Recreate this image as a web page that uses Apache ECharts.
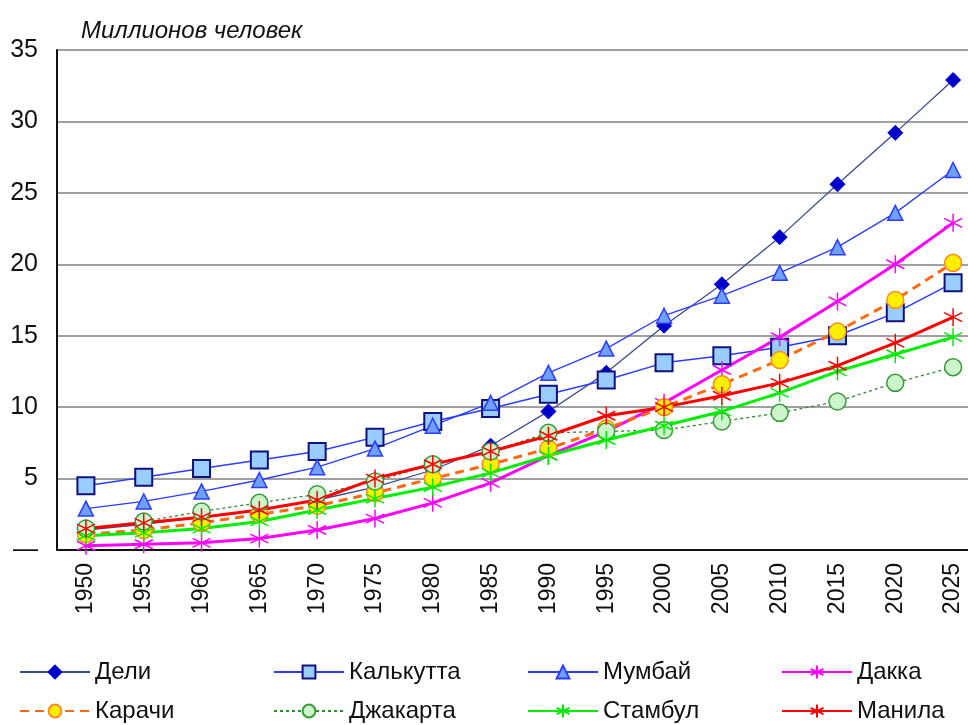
<!DOCTYPE html>
<html>
<head>
<meta charset="utf-8">
<script src="https://cdn.jsdelivr.net/npm/echarts@6/dist/echarts.min.js"></script>
<style>
  html, body { margin: 0; padding: 0; background: #fff; }
  #chart { width: 968px; height: 725px; }
</style>
</head>
<body>
<div id="chart"></div>
<script>
// годы и численность населения, млн человек
var years = ['1950', '1955', '1960', '1965', '1970', '1975', '1980', '1985',
  '1990', '1995', '2000', '2005', '2010', '2015', '2020', '2025'];

var delhi    = [1.4, 1.8, 2.3, 2.8, 3.5, 4.4, 5.6, 7.3, 9.7, 12.4, 15.7, 18.6, 21.9, 25.6, 29.2, 32.9];
var kolkata  = [4.5, 5.1, 5.7, 6.3, 6.9, 7.9, 9.0, 9.9, 10.9, 11.9, 13.1, 13.6, 14.2, 15.0, 16.6, 18.7];
var mumbai   = [2.9, 3.4, 4.1, 4.9, 5.8, 7.1, 8.7, 10.3, 12.4, 14.1, 16.4, 17.8, 19.4, 21.2, 23.6, 26.6];
var dhaka    = [0.3, 0.4, 0.5, 0.8, 1.4, 2.2, 3.3, 4.7, 6.6, 8.3, 10.3, 12.6, 14.9, 17.4, 20.0, 22.9];
var karachi  = [1.1, 1.4, 1.9, 2.5, 3.1, 4.0, 5.0, 6.0, 7.1, 8.5, 10.0, 11.6, 13.3, 15.3, 17.5, 20.1];
var jakarta  = [1.5, 2.0, 2.7, 3.3, 3.9, 4.8, 6.0, 6.9, 8.2, 8.3, 8.4, 9.0, 9.6, 10.4, 11.7, 12.8];
var istanbul = [1.0, 1.2, 1.5, 2.0, 2.8, 3.6, 4.4, 5.4, 6.6, 7.7, 8.7, 9.7, 11.0, 12.5, 13.7, 14.9];
var manila   = [1.5, 1.9, 2.3, 2.8, 3.5, 5.0, 6.0, 6.9, 8.0, 9.4, 10.0, 10.8, 11.7, 12.9, 14.5, 16.3];

var yTicks = [0, 5, 10, 15, 20, 25, 30, 35];

var FONT = '"Liberation Sans", Arial, sans-serif';
var STAR = 'path://M0,-10L0,10M-8.66,-5L8.66,5M-8.66,5L8.66,-5';

function lineSeries(name, data, color, width, type, symbol, size, fill, border, bw) {
  return {
    name: name,
    type: 'line',
    data: data,
    symbol: symbol,
    symbolSize: size,
    showAllSymbol: true,
    lineStyle: { color: color, width: width, type: type },
    itemStyle: { color: fill, borderColor: border, borderWidth: bw },
    emphasis: { disabled: true },
    animation: false
  };
}

var series = [
  lineSeries('Дели', delhi, '#3c4a8f', 1.3, 'solid', 'diamond', 15, '#0000cc', '#0000cc', 1),
  lineSeries('Калькутта', kolkata, '#2a3cff', 1.5, 'solid', 'rect', 17, '#99ccff', '#101080', 2),
  lineSeries('Мумбай', mumbai, '#2a3cff', 1.3, 'solid', 'triangle', 15, '#6f9fff', '#2a3cff', 1.5),
  lineSeries('Дакка', dhaka, '#ff00ff', 3, 'solid', STAR, 18, 'none', '#ff00ff', 1.5),
  lineSeries('Карачи', karachi, '#ff6a10', 3, [9, 6], 'circle', 17, '#ffee00', '#ff8a20', 1.5),
  lineSeries('Джакарта', jakarta, '#2e8b2e', 1.3, [3, 3], 'circle', 17, '#ccf5cc', '#3a9a3a', 1.5),
  lineSeries('Стамбул', istanbul, '#00ee00', 3, 'solid', STAR, 18, 'none', '#00ee00', 1.5),
  lineSeries('Манила', manila, '#ff0000', 3, 'solid', STAR, 18, 'none', '#ff0000', 1.5)
];

var legendPos = [
  [19, 660], [273, 660], [527, 660], [781, 660],
  [19, 699], [273, 699], [527, 699], [781, 699]
];
var legends = series.map(function (s, i) {
  return {
    data: [s.name],
    left: legendPos[i][0],
    top: legendPos[i][1],
    padding: 0,
    itemWidth: 70,
    itemHeight: 16,
    selectedMode: false,
    textStyle: { fontSize: 24, fontFamily: FONT, color: '#111' }
  };
});

var chart = echarts.init(document.getElementById('chart'), null, { renderer: 'canvas' });
chart.setOption({
  backgroundColor: '#fff',
  animation: false,
  title: {
    text: 'Миллионов человек',
    left: 76,
    top: 14,
    textStyle: { fontSize: 24, fontStyle: 'italic', fontWeight: 'normal', fontFamily: FONT, color: '#111' }
  },
  legend: legends,
  grid: { left: 57, top: 50, width: 925, height: 500, outerBoundsMode: 'none' },
  xAxis: {
    type: 'category',
    data: years,
    boundaryGap: true,
    axisLine: { lineStyle: { color: '#111', width: 2 } },
    axisTick: { show: false },
    axisLabel: { rotate: 90, fontSize: 23, fontFamily: FONT, color: '#111', margin: 13 }
  },
  yAxis: {
    type: 'value',
    min: yTicks[0],
    max: yTicks[yTicks.length - 1],
    interval: 5,
    axisLine: { show: true, lineStyle: { color: '#111', width: 2 } },
    axisTick: { show: false },
    splitLine: { lineStyle: { color: '#a0a0a0', width: 2 } },
    axisLabel: {
      fontSize: 25,
      fontFamily: FONT,
      color: '#111',
      margin: 19,
      formatter: function (v) { return v === 0 ? '—' : String(v); }
    }
  },
  series: series
});
</script>
</body>
</html>
